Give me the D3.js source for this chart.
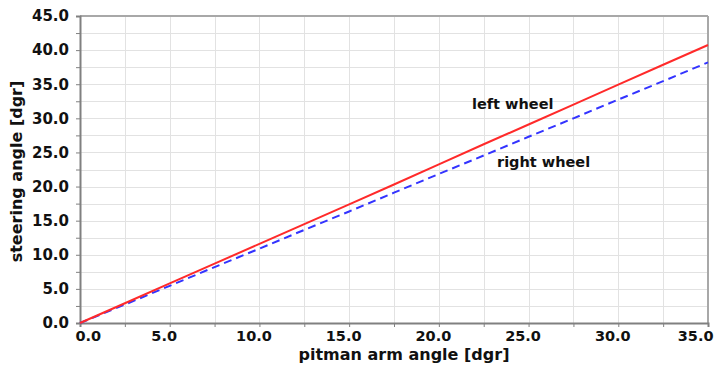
<!DOCTYPE html>
<html>
<head>
<meta charset="utf-8">
<script src="https://cdnjs.cloudflare.com/ajax/libs/d3/7.8.5/d3.min.js"></script>
<style>
  body { margin: 0; background: #fff; }
  text { font-family: "DejaVu Sans", sans-serif; font-weight: bold; fill: #111; }
</style>
</head>
<body>
<div id="chart"></div>
<script>
// pitman arm angle [dgr]
const pitman = [0, 2.5, 5, 7.5, 10, 12.5, 15, 17.5, 20, 22.5, 25, 27.5, 30, 32.5, 35];
// steering angles [dgr]
const leftWheel  = [0, 2.9, 5.8, 8.7, 11.6, 14.5, 17.4, 20.3, 23.25, 26.2, 29.1, 32.0, 34.95, 37.85, 40.75];
const rightWheel = [0, 2.7, 5.45, 8.2, 10.9, 13.65, 16.35, 19.1, 21.85, 24.55, 27.3, 30.0, 32.75, 35.45, 38.2];

const xTicks = [0, 5, 10, 15, 20, 25, 30, 35];
const yTicks = [0, 5, 10, 15, 20, 25, 30, 35, 40, 45];
const minorStep = 2.5;

const margin = {top: 16, right: 17, bottom: 48, left: 80},
  width = 725 - margin.left - margin.right,
  height = 371 - margin.top - margin.bottom;

const svg = d3.select("#chart")
  .append("svg")
    .attr("width", 725)
    .attr("height", 371)
  .append("g")
    .attr("transform", "translate(" + margin.left + "," + margin.top + ")");

let x = d3.scaleLinear().domain([0, 35]).range([0, width]);
let y = d3.scaleLinear().domain([0, 45]).range([height, 0]);

const xMinor = d3.range(0, 35 + 0.001, minorStep);
const yMinor = d3.range(0, 45 + 0.001, minorStep);

// grid
svg.selectAll("vgrid")
  .data(xMinor)
  .enter()
  .append("line")
    .attr("x1", d => Math.round(x(d)) + 0.5)
    .attr("x2", d => Math.round(x(d)) + 0.5)
    .attr("y1", 0)
    .attr("y2", height)
    .attr("stroke", "#e2e2e2");

svg.selectAll("hgrid")
  .data(yMinor)
  .enter()
  .append("line")
    .attr("y1", d => Math.round(y(d)) + 0.5)
    .attr("y2", d => Math.round(y(d)) + 0.5)
    .attr("x1", 0)
    .attr("x2", width)
    .attr("stroke", "#e2e2e2");

// frame top / right
svg.append("line")
  .attr("x1", 0).attr("x2", width).attr("y1", 0).attr("y2", 0)
  .attr("stroke", "#a8a8a8").attr("stroke-width", 2);
svg.append("line")
  .attr("x1", width).attr("x2", width).attr("y1", 0).attr("y2", height)
  .attr("stroke", "#a8a8a8").attr("stroke-width", 2);

// axes
const xAxis = svg.append("g")
  .attr("transform", "translate(0," + height + ")")
  .call(d3.axisBottom(x).tickValues(xMinor).tickSize(4)
    .tickFormat(d => xTicks.includes(d) ? d3.format(".1f")(d) : ""));
xAxis.select(".domain").attr("stroke", "#808080").attr("stroke-width", 2);
xAxis.selectAll(".tick line").attr("stroke", "#808080");
// labels sit a bit left of their ticks, end labels kept inside the plot width
xAxis.selectAll("text")
  .attr("y", 5)
  .attr("dy", "0.9em")
  .attr("x", d => d === 0 ? -5 : (d === 35 ? 5 : -6))
  .attr("text-anchor", d => d === 0 ? "start" : (d === 35 ? "end" : "middle"))
  .style("font-size", "14.5px");

const yAxis = svg.append("g")
  .call(d3.axisLeft(y).tickValues(yMinor).tickSize(4)
    .tickFormat(d => yTicks.includes(d) ? d3.format(".1f")(d) : ""));
yAxis.select(".domain").attr("stroke", "#808080").attr("stroke-width", 2);
yAxis.selectAll(".tick line").attr("stroke", "#808080");
yAxis.selectAll("text")
  .attr("x", -11)
  .style("font-size", "15px");
svg.selectAll(".tick text").style("font-family", "DejaVu Sans").style("font-weight", "bold").attr("fill", "#111");

// axis titles
svg.append("text")
  .attr("x", width / 2 + 10)
  .attr("y", height + 37)
  .attr("text-anchor", "middle")
  .style("font-size", "16px")
  .text("pitman arm angle [dgr]");

svg.append("text")
  .attr("transform", "translate(" + (-58) + "," + (height / 2 + 2) + ") rotate(-90)")
  .attr("text-anchor", "middle")
  .style("font-size", "16px")
  .text("steering angle [dgr]");

// lines
const line = d3.line()
  .x(d => x(d[0]))
  .y(d => y(d[1]));

svg.append("path")
  .datum(d3.zip(pitman, rightWheel))
  .attr("d", line)
  .attr("fill", "none")
  .attr("stroke", "#3333ff")
  .attr("stroke-width", 2)
  .attr("stroke-dasharray", "8,5");

svg.append("path")
  .datum(d3.zip(pitman, leftWheel))
  .attr("d", line)
  .attr("fill", "none")
  .attr("stroke", "#ff2a2a")
  .attr("stroke-width", 2);

// labels
svg.append("text")
  .attr("x", 392)
  .attr("y", 93)
  .style("font-size", "14.5px")
  .text("left wheel");

svg.append("text")
  .attr("x", 417)
  .attr("y", 151)
  .style("font-size", "14.5px")
  .text("right wheel");
</script>
</body>
</html>
